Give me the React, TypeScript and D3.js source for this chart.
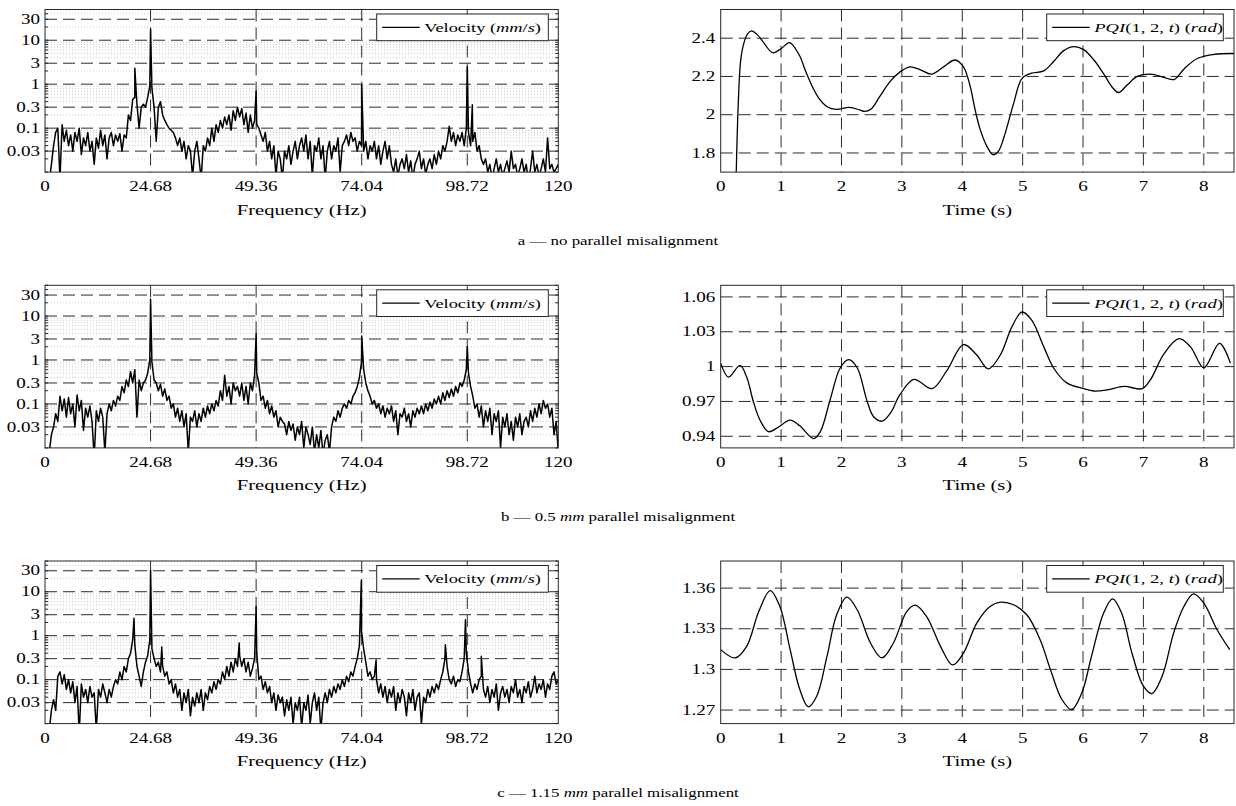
import React from 'react';
import * as d3 from 'd3';

// ---------------- DATA ----------------
const FREQ_STEP = 0.5; // Hz between samples of the base spectra

const specA = [
  0.003, 0.004, 0.006, 0.015, 0.04, 0.08, 0.1, 0.007, 0.12, 0.05,
  0.09, 0.04, 0.07, 0.03, 0.08, 0.05, 0.1, 0.025, 0.06, 0.04,
  0.08, 0.03, 0.05, 0.015, 0.06, 0.035, 0.09, 0.04, 0.07, 0.02,
  0.06, 0.08, 0.04, 0.07, 0.05, 0.075, 0.03, 0.07, 0.06, 0.2,
  0.15, 0.45, 0.5, 0.35, 0.1, 0.3, 0.35, 0.3, 0.5, 0.9,
  0.8, 0.3, 0.05, 0.3, 0.4, 0.2, 0.15, 0.12, 0.1, 0.09,
  0.08, 0.06, 0.04, 0.06, 0.03, 0.05, 0.02, 0.04, 0.03, 0.008,
  0.03, 0.05, 0.02, 0.007, 0.04, 0.03, 0.06, 0.04, 0.1, 0.05,
  0.12, 0.08, 0.15, 0.1, 0.18, 0.12, 0.2, 0.09, 0.25, 0.15,
  0.3, 0.18, 0.28, 0.12, 0.22, 0.08, 0.2, 0.1, 0.15, 0.12,
  0.1, 0.07, 0.05, 0.08, 0.03, 0.05, 0.02, 0.04, 0.008, 0.03,
  0.02, 0.007, 0.03, 0.02, 0.04, 0.015, 0.03, 0.05, 0.02, 0.04,
  0.06, 0.03, 0.07, 0.02, 0.05, 0.008, 0.04, 0.03, 0.06, 0.02,
  0.04, 0.007, 0.03, 0.05, 0.02, 0.04, 0.03, 0.06, 0.01, 0.04,
  0.05, 0.07, 0.04, 0.08, 0.05, 0.06, 0.03, 0.05, 0.04, 0.03,
  0.05, 0.02, 0.04, 0.03, 0.05, 0.02, 0.04, 0.015, 0.03, 0.05,
  0.02, 0.04, 0.015, 0.01, 0.02, 0.008, 0.015, 0.02, 0.012, 0.025,
  0.01, 0.018, 0.007, 0.015, 0.02, 0.03, 0.012, 0.02, 0.009, 0.015,
  0.02, 0.012, 0.025, 0.015, 0.03, 0.02, 0.04, 0.03, 0.05, 0.11,
  0.05, 0.08, 0.04, 0.07, 0.05, 0.08, 0.04, 0.1, 0.08, 0.04,
  0.05, 0.08, 0.03, 0.04, 0.02, 0.015, 0.02, 0.01, 0.015, 0.007,
  0.012, 0.02, 0.01, 0.015, 0.008, 0.012, 0.018, 0.01, 0.03, 0.012,
  0.015, 0.008, 0.012, 0.02, 0.01, 0.015, 0.006, 0.012, 0.03, 0.01,
  0.015, 0.008, 0.012, 0.02, 0.01, 0.06, 0.012, 0.015, 0.01, 0.012,
  0.015,
];
const peaksA: [number, number][] = [
  [21.0, 2.3], [24.68, 18], [49.36, 0.7], [74.04, 0.95], [98.72, 2.5], [99.9, 0.34],
];

const specB = [
  0.003, 0.004, 0.008, 0.02, 0.03, 0.06, 0.04, 0.15, 0.07, 0.13,
  0.05, 0.14, 0.06, 0.1, 0.03, 0.16, 0.07, 0.12, 0.025, 0.08,
  0.05, 0.09, 0.04, 0.006, 0.07, 0.04, 0.08, 0.05, 0.008, 0.06,
  0.1, 0.07, 0.12, 0.09, 0.15, 0.12, 0.25, 0.18, 0.35, 0.25,
  0.55, 0.3, 0.6, 0.05, 0.35, 0.2, 0.3, 0.35, 0.5, 1.0,
  0.9, 0.35, 0.3, 0.2, 0.28, 0.15, 0.22, 0.12, 0.15, 0.08,
  0.1, 0.05, 0.08, 0.04, 0.07, 0.03, 0.06, 0.008, 0.05, 0.04,
  0.07, 0.03, 0.06, 0.04, 0.08, 0.05, 0.09, 0.06, 0.1, 0.07,
  0.12, 0.09, 0.2, 0.12, 0.45, 0.15, 0.25, 0.1, 0.3, 0.2,
  0.25, 0.15, 0.3, 0.12, 0.25, 0.1, 0.3, 0.2, 0.45, 0.5,
  0.3, 0.12, 0.15, 0.08, 0.12, 0.06, 0.09, 0.05, 0.07, 0.03,
  0.05, 0.04, 0.035, 0.02, 0.04, 0.025, 0.035, 0.015, 0.03, 0.02,
  0.04, 0.01, 0.03, 0.02, 0.012, 0.03, 0.008, 0.02, 0.01, 0.025,
  0.007, 0.015, 0.02, 0.008, 0.03, 0.05, 0.04, 0.07, 0.05, 0.08,
  0.1, 0.08, 0.12, 0.1, 0.15, 0.18, 0.25, 0.4, 0.9, 0.6,
  0.3, 0.2, 0.15, 0.1, 0.12, 0.08, 0.1, 0.06, 0.09, 0.05,
  0.08, 0.06, 0.09, 0.04, 0.07, 0.02, 0.06, 0.05, 0.08, 0.04,
  0.06, 0.03, 0.07, 0.05, 0.08, 0.06, 0.09, 0.06, 0.1, 0.07,
  0.11, 0.08, 0.13, 0.1, 0.15, 0.1, 0.18, 0.12, 0.2, 0.14,
  0.22, 0.15, 0.25, 0.18, 0.3, 0.25, 0.35, 0.6, 0.5, 0.25,
  0.15, 0.08, 0.1, 0.05, 0.09, 0.03, 0.07, 0.04, 0.08, 0.02,
  0.06, 0.04, 0.07, 0.01, 0.05, 0.03, 0.06, 0.02, 0.04, 0.015,
  0.05, 0.03, 0.06, 0.02, 0.04, 0.05, 0.03, 0.07, 0.04, 0.08,
  0.05, 0.1, 0.06, 0.12, 0.08, 0.1, 0.05, 0.08, 0.02, 0.04,
  0.008,
];
const peaksB: [number, number][] = [
  [24.68, 24], [49.36, 4.0], [74.04, 3.5], [98.72, 2.0],
];

const specC = [
  0.003, 0.004, 0.007, 0.02, 0.035, 0.02, 0.12, 0.15, 0.08, 0.13,
  0.06, 0.1, 0.05, 0.09, 0.03, 0.07, 0.006, 0.08, 0.04, 0.06,
  0.03, 0.07, 0.04, 0.05, 0.007, 0.06, 0.04, 0.08, 0.05, 0.03,
  0.06, 0.04, 0.07, 0.1, 0.08, 0.15, 0.1, 0.2, 0.15, 0.3,
  0.4, 0.8, 0.6, 0.2, 0.12, 0.07, 0.15, 0.25, 0.35, 0.8,
  0.5, 0.3, 0.2, 0.25, 0.15, 0.2, 0.12, 0.15, 0.08, 0.1,
  0.05, 0.08, 0.04, 0.06, 0.02, 0.05, 0.03, 0.06, 0.015, 0.04,
  0.025, 0.05, 0.03, 0.06, 0.02, 0.05, 0.035, 0.07, 0.05, 0.09,
  0.06, 0.1, 0.08, 0.15, 0.1, 0.2, 0.12, 0.25, 0.15, 0.3,
  0.2, 0.35, 0.2, 0.3, 0.15, 0.25, 0.12, 0.18, 0.3, 0.4,
  0.1, 0.12, 0.06, 0.09, 0.05, 0.07, 0.03, 0.05, 0.02, 0.045,
  0.03, 0.04, 0.015, 0.035, 0.02, 0.04, 0.01, 0.03, 0.02, 0.04,
  0.008, 0.03, 0.02, 0.045, 0.01, 0.03, 0.05, 0.02, 0.04, 0.007,
  0.03, 0.05, 0.03, 0.06, 0.04, 0.07, 0.05, 0.08, 0.06, 0.1,
  0.07, 0.12, 0.09, 0.15, 0.12, 0.2, 0.3, 0.6, 1.2, 0.5,
  0.25, 0.12, 0.15, 0.1, 0.12, 0.1, 0.05, 0.08, 0.04, 0.07,
  0.03, 0.06, 0.04, 0.07, 0.02, 0.05, 0.03, 0.06, 0.04, 0.015,
  0.05, 0.03, 0.06, 0.02, 0.04, 0.05, 0.01, 0.04, 0.03, 0.06,
  0.04, 0.07, 0.05, 0.08, 0.06, 0.1, 0.15, 0.3, 0.2, 0.1,
  0.08, 0.12, 0.07, 0.1, 0.09, 0.15, 0.3, 0.4, 0.15, 0.08,
  0.05, 0.08, 0.06, 0.1, 0.12, 0.06, 0.04, 0.07, 0.03, 0.06,
  0.04, 0.08, 0.02, 0.05, 0.07, 0.04, 0.06, 0.03, 0.07, 0.05,
  0.1, 0.04, 0.06, 0.03, 0.07, 0.05, 0.09, 0.04, 0.06, 0.12,
  0.05, 0.08, 0.06, 0.1, 0.04, 0.08, 0.06, 0.12, 0.15, 0.08,
  0.1,
];
const peaksC: [number, number][] = [
  [20.8, 2.5], [24.68, 31], [27.3, 0.55], [45.4, 0.68], [49.36, 4.6],
  [73.95, 18], [77.4, 0.28], [93.6, 0.62], [98.3, 2.3], [102.0, 0.34],
];

const freqTicks = [0, 24.68, 49.36, 74.04, 98.72, 120];
const freqTickLabels = ['0', '24.68', '49.36', '74.04', '98.72', '120'];
const ampTicks = [0.03, 0.1, 0.3, 1, 3, 10, 30];
const ampTickLabels = ['0.03', '0.1', '0.3', '1', '3', '10', '30'];

const timeA = [0.25, 0.29, 0.33, 0.38, 0.44, 0.51, 0.6, 0.7, 0.86, 1.0, 1.14, 1.3, 1.41, 1.52, 1.63, 1.77, 1.91, 2.13, 2.3, 2.38, 2.49, 2.63, 2.8, 2.97, 3.13, 3.3, 3.49, 3.69, 3.88, 4.02, 4.13, 4.21, 4.29, 4.4, 4.51, 4.6, 4.69, 4.85, 4.99, 5.15, 5.35, 5.51, 5.68, 5.85, 6.01, 6.18, 6.34, 6.48, 6.59, 6.73, 6.9, 7.12, 7.34, 7.51, 7.68, 7.9, 8.18, 8.5];
const pqiA = [1.6, 2.05, 2.28, 2.37, 2.42, 2.438, 2.42, 2.382, 2.324, 2.345, 2.377, 2.312, 2.224, 2.145, 2.084, 2.04, 2.028, 2.038, 2.025, 2.017, 2.03, 2.093, 2.172, 2.224, 2.25, 2.236, 2.212, 2.25, 2.286, 2.25, 2.15, 2.03, 1.93, 1.84, 1.791, 1.81, 1.882, 2.058, 2.19, 2.217, 2.229, 2.277, 2.335, 2.356, 2.34, 2.286, 2.215, 2.145, 2.116, 2.155, 2.2, 2.212, 2.195, 2.184, 2.242, 2.295, 2.316, 2.32];

const timeB = [0, 0.13, 0.32, 0.43, 0.54, 0.65, 0.79, 0.93, 1.15, 1.31, 1.54, 1.65, 1.81, 1.98, 2.12, 2.26, 2.42, 2.53, 2.67, 2.81, 2.97, 3.2, 3.5, 3.75, 4.02, 4.24, 4.43, 4.63, 4.82, 4.99, 5.15, 5.35, 5.51, 5.73, 6.01, 6.18, 6.4, 6.68, 6.98, 7.12, 7.34, 7.59, 7.78, 8.0, 8.26, 8.44];
const pqiB = [1.003, 0.991, 1.001, 0.991, 0.97, 0.954, 0.944, 0.947, 0.954, 0.949, 0.938, 0.944, 0.971, 0.999, 1.006, 0.999, 0.971, 0.957, 0.953, 0.96, 0.976, 0.989, 0.981, 0.997, 1.019, 1.01, 0.998, 1.01, 1.034, 1.047, 1.04, 1.017, 0.999, 0.986, 0.981, 0.979, 0.98, 0.983, 0.981, 0.989, 1.011, 1.024, 1.017, 0.999, 1.02, 1.003];

const timeC = [0, 0.24, 0.43, 0.63, 0.82, 0.98, 1.15, 1.31, 1.45, 1.59, 1.76, 1.92, 2.09, 2.26, 2.48, 2.67, 2.86, 3.08, 3.22, 3.41, 3.64, 3.84, 4.02, 4.24, 4.46, 4.63, 4.85, 5.07, 5.29, 5.46, 5.65, 5.81, 5.98, 6.14, 6.34, 6.49, 6.64, 6.81, 7.0, 7.14, 7.31, 7.5, 7.67, 7.83, 8.0, 8.22, 8.43];
const pqiC = [1.3146, 1.3085, 1.317, 1.3427, 1.3582, 1.3464, 1.3146, 1.2851, 1.2724, 1.2802, 1.3096, 1.3403, 1.3533, 1.344, 1.3195, 1.3085, 1.3195, 1.3427, 1.3474, 1.339, 1.317, 1.3033, 1.312, 1.3342, 1.3464, 1.3496, 1.3477, 1.3403, 1.3219, 1.2999, 1.2778, 1.2704, 1.2827, 1.3096, 1.3415, 1.3521, 1.3415, 1.3121, 1.2876, 1.2822, 1.2949, 1.3268, 1.3464, 1.3557, 1.3489, 1.3293, 1.3146];

const timeTicks = [0, 1, 2, 3, 4, 5, 6, 7, 8];
const pqiDomainA: [number, number] = [1.7, 2.55];
const pqiTicksA = [1.8, 2, 2.2, 2.4];
const pqiTickLabelsA = ['1.8', '2', '2.2', '2.4'];
const pqiDomainB: [number, number] = [0.93, 1.07];
const pqiTicksB = [0.94, 0.97, 1, 1.03, 1.06];
const pqiTickLabelsB = ['0.94', '0.97', '1', '1.03', '1.06'];
const pqiDomainC: [number, number] = [1.26, 1.38];
const pqiTicksC = [1.27, 1.3, 1.33, 1.36];
const pqiTickLabelsC = ['1.27', '1.3', '1.33', '1.36'];

const captionLetters = ['a', 'b', 'c'];
const captionAmounts = ['', '0.5', '1.15'];

// ---------------- LAYOUT ----------------
const W = 1236;
const H = 806;
const SL = 45, SR = 558.3;       // spectrum plot x-range
const TL = 720.7, TR = 1234;     // time plot x-range
const ROW_TOPS = [9.5, 285.3, 561];
const PH = 162.6;                // plot height
const FONT = '"Liberation Serif", "Times New Roman", serif';
const AXIS = '#262626';
const GRID = '#2b2b2b';
const SX = 1.36;

type TP = { x: number; y: number; anchor?: string; size?: number; sx?: number; children: React.ReactNode };
const T = ({ x, y, anchor = 'middle', size = 14, sx = SX, children }: TP) => (
  <text transform={`translate(${x},${y}) scale(${sx},1)`} textAnchor={anchor as any}
    fontSize={size} fontFamily={FONT} fill="#000">{children}</text>
);

function Spectrum({ top, values, peaks, id }: { top: number; values: number[]; peaks: [number, number][]; id: string }) {
  const x = d3.scaleLinear().domain([0, 120]).range([SL, SR]);
  const y = d3.scaleLog().domain([0.01, 50]).range([top + PH, top]);
  const pts: [number, number][] = values.map((v, i) => [i * FREQ_STEP, v] as [number, number])
    .concat(peaks).sort((a, b) => a[0] - b[0]);
  const line = d3.line<[number, number]>().x(d => x(d[0])).y(d => y(Math.max(d[1], 1e-4)));
  const minors: number[] = [];
  [0.01, 0.1, 1, 10].forEach(dec => {
    for (let k = 2; k <= 9; k++) {
      const v = k * dec;
      if (v < 50 && !ampTicks.some(t => Math.abs(t - v) < 1e-9)) minors.push(v);
    }
  });
  const allMinor: number[] = [];
  [0.01, 0.1, 1, 10].forEach(dec => { for (let k = 1; k <= 9; k++) { const v = k * dec; if (v <= 50) allMinor.push(v); } });
  const lx = SR - 10 - 171.6, ly = top + 4.5, lw = 171.6, lh = 26.7;
  return (
    <g>
      <defs><clipPath id={id}><rect x={SL} y={top} width={SR - SL} height={PH} /></clipPath></defs>
      {minors.map((v, i) => (
        <line key={'m' + i} x1={SL} x2={SR} y1={y(v)} y2={y(v)} stroke="#bdbdbd" strokeWidth={0.8} strokeDasharray="1,2" />
      ))}
      {ampTicks.map((v, i) => (
        <line key={'g' + i} x1={SL} x2={SR} y1={y(v)} y2={y(v)} stroke={GRID} strokeWidth={1} strokeDasharray="12,6" />
      ))}
      {freqTicks.slice(1, -1).map((f, i) => (
        <line key={'v' + i} x1={x(f)} x2={x(f)} y1={top} y2={top + PH} stroke={GRID} strokeWidth={1} strokeDasharray="12,6" />
      ))}
      <path d={line(pts) || ''} fill="none" stroke="#000" strokeWidth={1.5} clipPath={`url(#${id})`} strokeLinejoin="round" />
      {allMinor.map((v, i) => (
        <g key={'t' + i}>
          <line x1={SL} x2={SL + 3} y1={y(v)} y2={y(v)} stroke={AXIS} />
          <line x1={SR} x2={SR - 3} y1={y(v)} y2={y(v)} stroke={AXIS} />
        </g>
      ))}
      <rect x={SL} y={top} width={SR - SL} height={PH} fill="none" stroke={AXIS} strokeWidth={1} />
      {ampTicks.map((v, i) => (
        <T key={'yl' + i} x={SL - 5} y={y(v) + 4.6} anchor="end">{ampTickLabels[i]}</T>
      ))}
      {freqTicks.map((f, i) => (
        <T key={'xl' + i} x={x(f)} y={top + PH + 19.3}>{freqTickLabels[i]}</T>
      ))}
      <T x={(SL + SR) / 2} y={top + PH + 42.5} size={15.5} sx={1.33}>Frequency (Hz)</T>
      <rect x={lx} y={ly} width={lw} height={lh} fill="#fff" stroke={AXIS} strokeWidth={1} />
      <line x1={lx + 5.5} x2={lx + 43} y1={ly + lh / 2} y2={ly + lh / 2} stroke="#000" strokeWidth={1.2} />
      <T x={lx + 47.5} y={ly + lh / 2 + 4.6} anchor="start" size={13.5} sx={1.36}>
        Velocity (<tspan fontStyle="italic">mm</tspan>/<tspan fontStyle="italic">s</tspan>)
      </T>
    </g>
  );
}

function TimePlot({ top, t, v, domain, ticks, labels, id }: { top: number; t: number[]; v: number[]; domain: [number, number]; ticks: number[]; labels: string[]; id: string }) {
  const x = d3.scaleLinear().domain([0, 8.5]).range([TL, TR]);
  const y = d3.scaleLinear().domain(domain).range([top + PH, top]);
  const pts = t.map((tt, i) => [tt, v[i]] as [number, number]);
  const line = d3.line<[number, number]>().x(d => x(d[0])).y(d => y(d[1])).curve(d3.curveCatmullRom.alpha(0.5));
  const lw = 176.6, lx = TR - 10.7 - lw, ly = top + 4.5, lh = 26.7;
  return (
    <g>
      <defs><clipPath id={id}><rect x={TL} y={top} width={TR - TL} height={PH} /></clipPath></defs>
      {ticks.map((val, i) => (
        <line key={'g' + i} x1={TL} x2={TR} y1={y(val)} y2={y(val)} stroke={GRID} strokeWidth={1} strokeDasharray="12,6" />
      ))}
      {timeTicks.slice(1).map((tt, i) => (
        <line key={'v' + i} x1={x(tt)} x2={x(tt)} y1={top} y2={top + PH} stroke={GRID} strokeWidth={1} strokeDasharray="12,6" />
      ))}
      <path d={line(pts) || ''} fill="none" stroke="#000" strokeWidth={1.3} clipPath={`url(#${id})`} />
      <rect x={TL} y={top} width={TR - TL} height={PH} fill="none" stroke={AXIS} strokeWidth={1} />
      {ticks.map((val, i) => (
        <T key={'yl' + i} x={TL - 5.5} y={y(val) + 4.6} anchor="end">{labels[i]}</T>
      ))}
      {timeTicks.map((tt, i) => (
        <T key={'xl' + i} x={x(tt)} y={top + PH + 19.3}>{String(tt)}</T>
      ))}
      <T x={(TL + TR) / 2} y={top + PH + 42.5} size={15.5} sx={1.33}>Time (s)</T>
      <rect x={lx} y={ly} width={lw} height={lh} fill="#fff" stroke={AXIS} strokeWidth={1} />
      <line x1={lx + 5.5} x2={lx + 43} y1={ly + lh / 2} y2={ly + lh / 2} stroke="#000" strokeWidth={1.2} />
      <T x={lx + 47.5} y={ly + lh / 2 + 4.6} anchor="start" size={13.5} sx={1.38}>
        <tspan fontStyle="italic">PQI</tspan>(1, 2, <tspan fontStyle="italic">t</tspan>) (<tspan fontStyle="italic">rad</tspan>)
      </T>
    </g>
  );
}

export default function App() {
  const specs = [specA, specB, specC];
  const peaks = [peaksA, peaksB, peaksC];
  const times = [timeA, timeB, timeC];
  const pqis = [pqiA, pqiB, pqiC];
  const domains = [pqiDomainA, pqiDomainB, pqiDomainC];
  const ticks = [pqiTicksA, pqiTicksB, pqiTicksC];
  const labels = [pqiTickLabelsA, pqiTickLabelsB, pqiTickLabelsC];
  return (
    <svg width={W} height={H} style={{ position: 'absolute', left: 0, top: 0, background: '#fff' }}>
      <rect x={0} y={0} width={W} height={H} fill="#fff" />
      {ROW_TOPS.map((top, r) => (
        <g key={r}>
          <Spectrum top={top} values={specs[r]} peaks={peaks[r]} id={`cs${r}`} />
          <TimePlot top={top} t={times[r]} v={pqis[r]} domain={domains[r]} ticks={ticks[r]} labels={labels[r]} id={`ct${r}`} />
          <T x={W / 2} y={top + PH + 73} size={13.5} sx={1.25}>
            {captionLetters[r]} — {captionAmounts[r] === '' ? 'no' : <>{captionAmounts[r]} <tspan fontStyle="italic">mm</tspan></>} parallel misalignment
          </T>
        </g>
      ))}
    </svg>
  );
}
